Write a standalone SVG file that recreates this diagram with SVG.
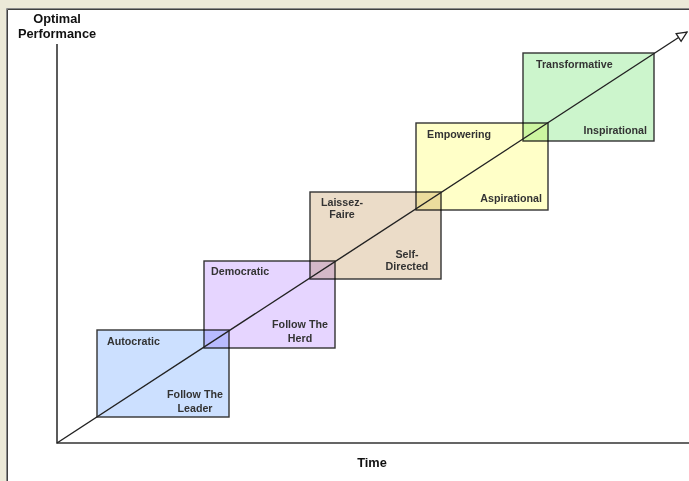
<svg xmlns="http://www.w3.org/2000/svg" width="689" height="481" viewBox="0 0 689 481">
<defs>
<style>
.lbl{font-family:"Liberation Sans",Arial,sans-serif;font-weight:bold;font-size:10.7px;fill:#333}
.ax{font-family:"Liberation Sans",Arial,sans-serif;font-weight:bold;font-size:12.8px;fill:#111}
.box{stroke:#333;stroke-width:1.4;mix-blend-mode:multiply}
.axis{stroke:#333;stroke-width:1.6;fill:none}
</style>
<marker id="arr" viewBox="0 0 12 12" refX="11" refY="6" markerWidth="12" markerHeight="12" markerUnits="userSpaceOnUse" orient="auto">
<path d="M1,1.5 L11,6 L1,10.5 Z" fill="#fff" stroke="#222" stroke-width="1.3"/>
</marker>
</defs>
<rect x="0" y="0" width="689" height="481" fill="#ECE9D8"/>
<rect x="6" y="8" width="683" height="473" fill="#fff"/>
<path d="M6.5,481 V8.5 H689" fill="none" stroke="#8a8a8a" stroke-width="1"/>
<path d="M7.5,481 V9.5 H689" fill="none" stroke="#404040" stroke-width="1"/>
<g id="axis-labels">
<text class="ax" x="57" y="23" text-anchor="middle">Optimal</text>
<text class="ax" x="57" y="38" text-anchor="middle">Performance</text>
<text class="ax" x="372" y="467" text-anchor="middle">Time</text>
</g>
<g id="autocratic">
<rect class="box" x="97" y="330" width="132" height="87" fill="#CCE0FF"/>
<text class="lbl" x="107" y="345">Autocratic</text>
<text class="lbl" x="195" y="398" text-anchor="middle">Follow The</text>
<text class="lbl" x="195" y="412" text-anchor="middle">Leader</text>
</g>
<g id="democratic">
<rect class="box" x="204" y="261" width="131" height="87" fill="#E6D5FF"/>
<text class="lbl" x="211" y="275">Democratic</text>
<text class="lbl" x="300" y="328" text-anchor="middle">Follow The</text>
<text class="lbl" x="300" y="342" text-anchor="middle">Herd</text>
</g>
<g id="laissez-faire">
<rect class="box" x="310" y="192" width="131" height="87" fill="#EBDCC8"/>
<text class="lbl" x="342" y="206" text-anchor="middle">Laissez-</text>
<text class="lbl" x="342" y="218" text-anchor="middle">Faire</text>
<text class="lbl" x="407" y="258" text-anchor="middle">Self-</text>
<text class="lbl" x="407" y="270" text-anchor="middle">Directed</text>
</g>
<g id="empowering">
<rect class="box" x="416" y="123" width="132" height="87" fill="#FFFFC8"/>
<text class="lbl" x="427" y="138">Empowering</text>
<text class="lbl" x="542" y="202" text-anchor="end">Aspirational</text>
</g>
<g id="transformative">
<rect class="box" x="523" y="53" width="131" height="88" fill="#CCF5CC"/>
<text class="lbl" x="536" y="68">Transformative</text>
<text class="lbl" x="647" y="134" text-anchor="end">Inspirational</text>
</g>
<g id="connectors">
<path class="axis" d="M57,44 V443 H689"/>
<path d="M57,443 L687,32" stroke="#222" stroke-width="1.4" fill="none" marker-end="url(#arr)"/>
</g>
</svg>
